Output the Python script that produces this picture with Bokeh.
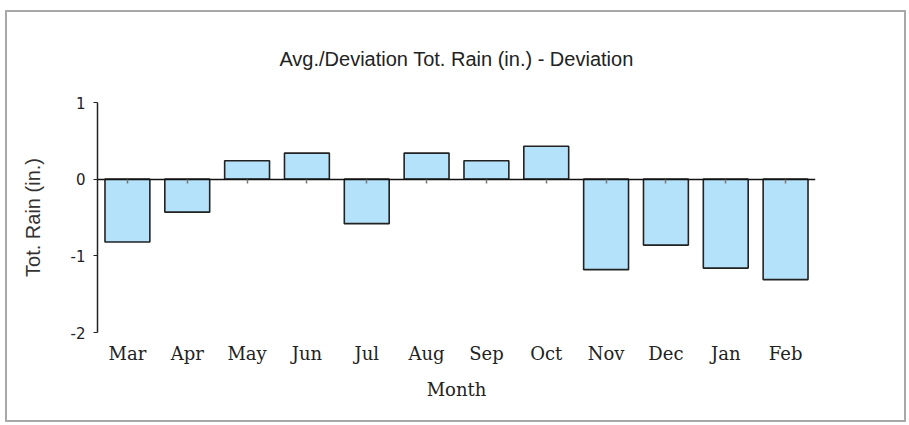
from bokeh.plotting import figure
from bokeh.models import Range1d, CategoricalAxis, FixedTicker, ColumnDataSource, PrintfTickFormatter
from bokeh.embed import file_html
from bokeh.resources import INLINE

months = ["Mar", "Apr", "May", "Jun", "Jul", "Aug", "Sep", "Oct", "Nov", "Dec", "Jan", "Feb"]
deviation = [-0.82, -0.43, 0.24, 0.34, -0.58, 0.34, 0.24, 0.43, -1.18, -0.86, -1.16, -1.31]
y_ticks = [-2, -1, 0, 1]

title_text = "Avg./Deviation Tot. Rain (in.) - Deviation"
x_label = "Month"
y_label = "Tot. Rain (in.)"

src = ColumnDataSource(data=dict(month=months, dev=deviation))

p = figure(width=901, height=412, x_range=months, y_range=Range1d(-2, 1),
           output_backend="svg", toolbar_location=None,
           min_border_left=90, min_border_right=93, min_border_top=89, min_border_bottom=92,
           background_fill_color="white", border_fill_color="white")
p.margin = (10, 0, 0, 5)
p.styles = {"border": "2px solid #a8a8a8"}

p.title.text = title_text
p.title.align = "center"
p.title.text_font = "Liberation Sans"
p.title.text_font_size = "20px"
p.title.text_font_style = "normal"
p.title.text_color = "#222222"
p.title.standoff = 66

p.vbar(x="month", top="dev", bottom=0, width=0.75, source=src,
       fill_color="#b3e2fa", line_color="#222222", line_width=1.6)

p.outline_line_color = None
p.xgrid.grid_line_color = None
p.ygrid.grid_line_color = None

# bottom axis: labels only
xa = p.xaxis[0]
xa.axis_line_color = None
xa.major_tick_line_color = None
xa.major_tick_out = 0
xa.major_tick_in = 0
xa.minor_tick_line_color = None
xa.major_label_text_font = "DejaVu Serif"
xa.major_label_text_font_size = "18px"
xa.major_label_text_color = "#222222"
xa.major_label_standoff = 10
xa.axis_label = x_label
xa.axis_label_text_font = "DejaVu Serif"
xa.axis_label_text_font_size = "18px"
xa.axis_label_text_font_style = "normal"
xa.axis_label_text_color = "#222222"
xa.axis_label_standoff = 12

# zero-line axis (line + small ticks, no labels)
za = CategoricalAxis(fixed_location=0)
za.axis_line_color = "#111111"
za.axis_line_width = 1.5
za.major_tick_out = 4
za.major_tick_in = 0
za.major_tick_line_color = "#777777"
za.major_tick_line_width = 1.5
za.major_label_text_color = None
za.major_label_standoff = 0
p.add_layout(za, "below")

ya = p.yaxis[0]
ya.ticker = FixedTicker(ticks=y_ticks)
ya.formatter = PrintfTickFormatter(format="%d")
ya.axis_line_color = "#222222"
ya.axis_line_width = 1.5
ya.major_tick_out = 4
ya.major_tick_in = 0
ya.major_tick_line_color = "#222222"
ya.minor_tick_line_color = None
ya.major_label_text_font = "DejaVu Sans"
ya.major_label_text_font_size = "15px"
ya.major_label_text_color = "#222222"
ya.major_label_standoff = 8
ya.axis_label = y_label
ya.axis_label_text_font = "Liberation Sans"
ya.axis_label_text_font_size = "20px"
ya.axis_label_text_font_style = "normal"
ya.axis_label_text_color = "#333333"
ya.axis_label_standoff = 24

open("out.html", "w").write(file_html(p, INLINE))
